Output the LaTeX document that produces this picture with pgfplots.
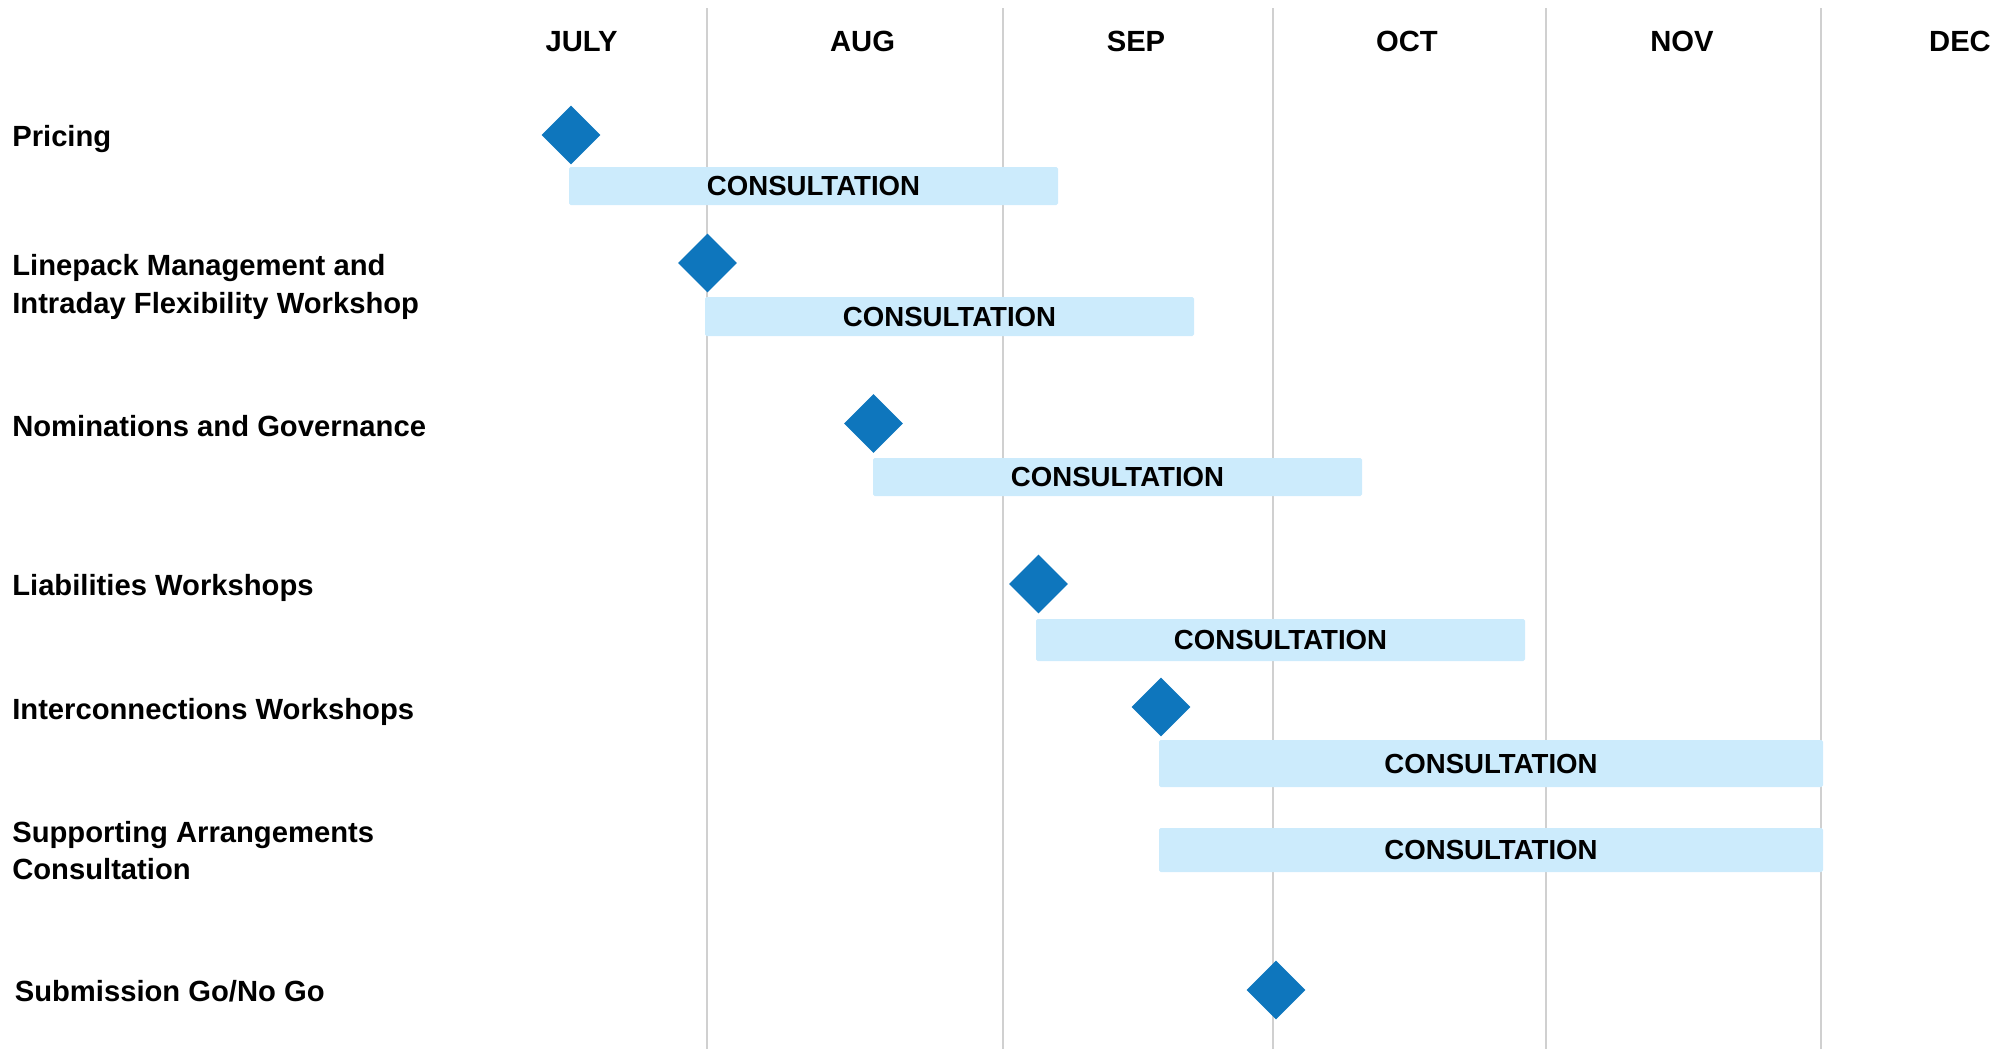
\documentclass[border=0pt]{standalone}
\usepackage{pgfplots}
\pgfplotsset{compat=1.18}
\usepackage{fontspec}
\setmainfont{Liberation Sans}
\definecolor{diam}{RGB}{14,118,189}
\definecolor{barc}{RGB}{204,235,252}
\definecolor{gridc}{RGB}{208,208,208}
\tikzset{
  lbl/.style={font=\fontsize{7.3}{9}\selectfont\bfseries, inner sep=0pt},
  cons/.style={font=\fontsize{6.9}{8}\selectfont\bfseries, inner sep=0pt},
}
\begin{document}
\begin{tikzpicture}
\begin{axis}[
  scale only axis, width=498.75pt, height=262.25pt,
  xmin=0, xmax=1995, ymin=0, ymax=1049, y dir=reverse,
  hide axis, clip=false,
]
% month gridlines
\foreach \g in {707,1003,1272.5,1546,1821}{
  \edef\tmp{\noexpand\draw[gridc, line width=0.5pt] (axis cs:\g,8) -- (axis cs:\g,1049);}\tmp
}
% month labels
\node[lbl, anchor=base] at (axis cs:581.5,51.7) {JULY};
\node[lbl, anchor=base] at (axis cs:862.6,51.7) {AUG};
\node[lbl, anchor=base] at (axis cs:1136,51.7) {SEP};
\node[lbl, anchor=base] at (axis cs:1407,51.7) {OCT};
\node[lbl, anchor=base] at (axis cs:1682,51.7) {NOV};
\node[lbl, anchor=base] at (axis cs:1960,51.7) {DEC};
% row labels
\node[lbl, anchor=base west] at (axis cs:11.5,146.5) {Pricing};
\node[lbl, anchor=base west] at (axis cs:11.5,275) {Linepack Management and};
\node[lbl, anchor=base west] at (axis cs:11.5,313.2) {Intraday Flexibility Workshop};
\node[lbl, anchor=base west] at (axis cs:11.5,436) {Nominations and Governance};
\node[lbl, anchor=base west] at (axis cs:11.5,595.7) {Liabilities Workshops};
\node[lbl, anchor=base west] at (axis cs:11.5,719) {Interconnections Workshops};
\node[lbl, anchor=base west] at (axis cs:11.5,842.5) {Supporting Arrangements};
\node[lbl, anchor=base west] at (axis cs:11.5,879.5) {Consultation};
\node[lbl, anchor=base west] at (axis cs:14,1001.5) {Submission Go/No Go};
% consultation bars
\addplot[fill=barc, draw=none, rounded corners=0.4pt] coordinates {(569,167) (1058,167) (1058,205) (569,205)} -- cycle;
\addplot[fill=barc, draw=none, rounded corners=0.4pt] coordinates {(705,297) (1194,297) (1194,336) (705,336)} -- cycle;
\addplot[fill=barc, draw=none, rounded corners=0.4pt] coordinates {(873,458) (1362,458) (1362,496) (873,496)} -- cycle;
\addplot[fill=barc, draw=none, rounded corners=0.4pt] coordinates {(1036,619) (1525,619) (1525,661) (1036,661)} -- cycle;
\addplot[fill=barc, draw=none, rounded corners=0.4pt] coordinates {(1159,740) (1823,740) (1823,787) (1159,787)} -- cycle;
\addplot[fill=barc, draw=none, rounded corners=0.4pt] coordinates {(1159,828) (1823,828) (1823,872) (1159,872)} -- cycle;
% bar labels
\foreach \cx/\cy in {813.5/186, 949.5/316.5, 1117.5/477, 1280.5/640, 1491/763.5, 1491/850}{
  \edef\tmp{\noexpand\node[cons] at (axis cs:\cx,\cy) {CONSULTATION};}\tmp
}
% milestones
\addplot[only marks, mark=square*, mark size=5pt,
  mark options={rotate=45, fill=diam, draw=diam, rounded corners=0.6pt}]
  coordinates {(571,135) (707.5,263) (873.5,423.5) (1038.5,584) (1161,707) (1276,990)};
\end{axis}
\pgfresetboundingbox
\path (current axis.south west) rectangle (current axis.north east);
\end{tikzpicture}
\end{document}
